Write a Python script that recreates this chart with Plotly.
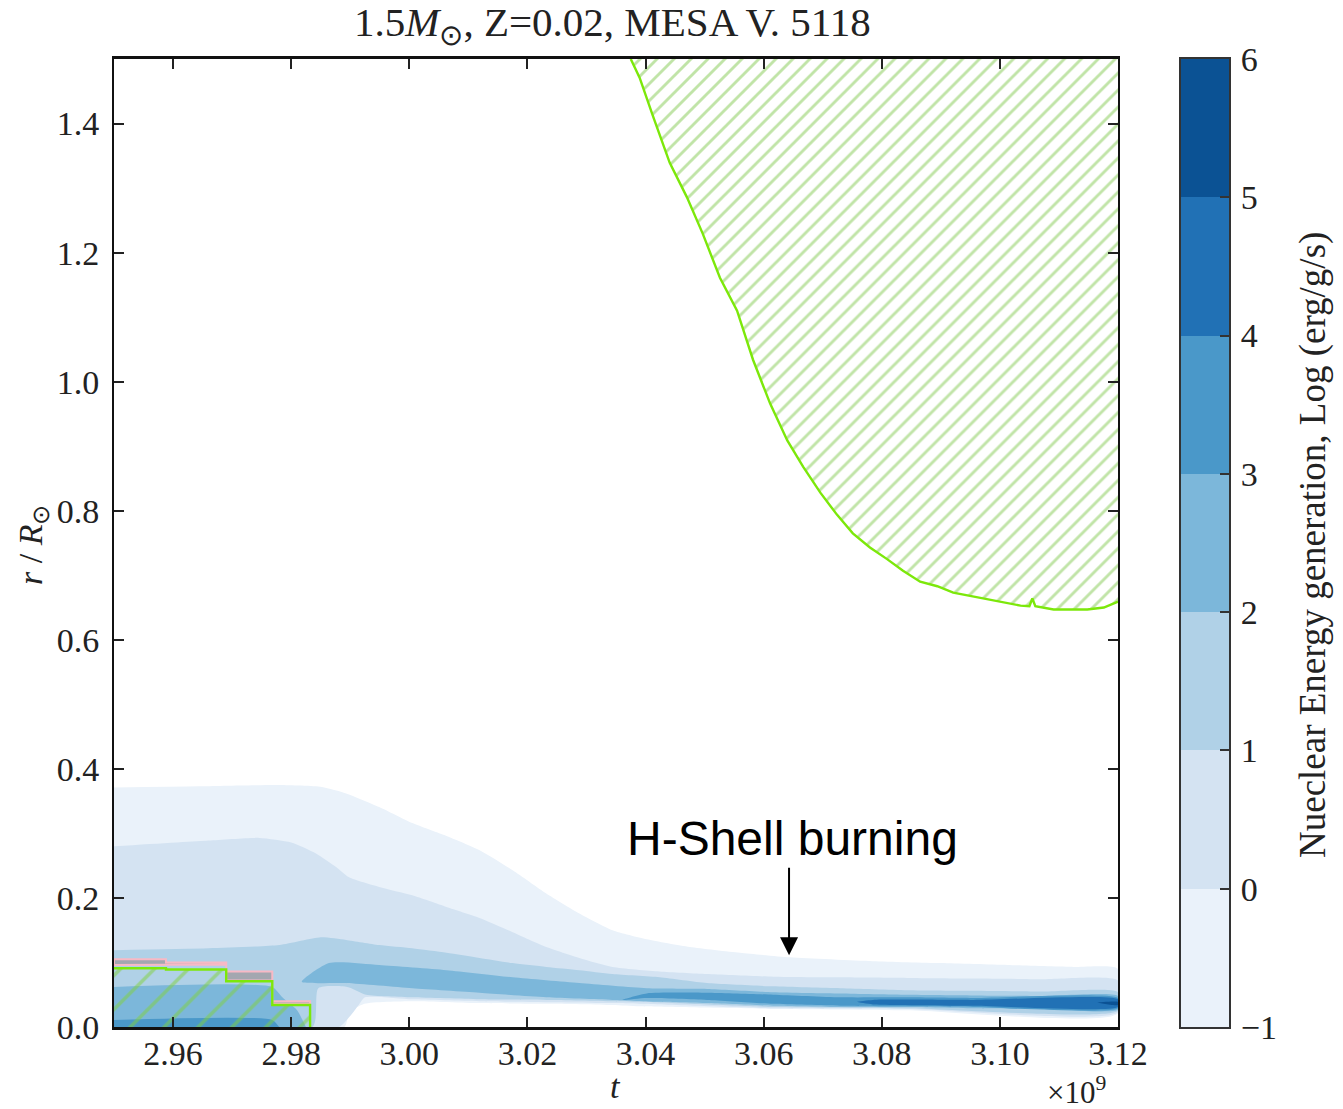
import plotly.graph_objects as go

# ---------------- data ----------------
levels = [-1, 0, 1, 2, 3, 4, 5, 6]
band_colors = ['#eaf2fa', '#d4e3f2', '#b0d1e7', '#7cb7da', '#4a98c9', '#2171b5', '#0b5294']

x_ticks = [2.96, 2.98, 3.00, 3.02, 3.04, 3.06, 3.08, 3.10, 3.12]
y_ticks = [0.0, 0.2, 0.4, 0.6, 0.8, 1.0, 1.2, 1.4]

# Boundaries (t in 1e9 yr, r in R_sun) of the region where log(eps_nuc) > level
lvm1_t_hi = [2.95, 2.9644, 2.978, 2.9852, 2.9893, 2.9949, 3.0005, 3.0063, 3.0119, 3.0175, 3.0232,
             3.0288, 3.0344, 3.0402, 3.0475, 3.056, 3.0645, 3.0785, 3.09, 3.1013, 3.1125, 3.12]
lvm1_r_hi = [0.371, 0.373, 0.375, 0.372, 0.362, 0.341, 0.316, 0.296, 0.274, 0.243, 0.207,
             0.176, 0.150, 0.136, 0.124, 0.115, 0.108, 0.102, 0.099, 0.096, 0.093, 0.090]
lvm1_t_lo = [2.95, 2.9890, 2.9898, 2.9924, 3.0005, 3.0119, 3.0232, 3.0344, 3.039, 3.0616, 3.0843, 3.12]
lvm1_r_lo = [0.0, 0.0, 0.022, 0.036, 0.040, 0.037, 0.036, 0.034, 0.032, 0.028, 0.026, 0.021]

lv0_t_hi = [2.95, 2.966, 2.9746, 2.980, 2.9842, 2.9876, 2.9898, 2.9949, 3.0005, 3.0063, 3.0119, 3.0175,
            3.0232, 3.0288, 3.0344, 3.0424, 3.0504, 3.0616, 3.073, 3.0843, 3.0955, 3.1069, 3.12]
lv0_r_hi = [0.280, 0.289, 0.293, 0.286, 0.269, 0.248, 0.232, 0.217, 0.204, 0.186, 0.169, 0.147,
            0.124, 0.107, 0.093, 0.086, 0.082, 0.078, 0.077, 0.076, 0.075, 0.074, 0.072]
lv0_t_lo = [2.95, 2.9881, 2.9898, 2.9915, 2.9925, 3.0005, 3.0119, 3.0344, 3.039, 3.0616, 3.0843, 3.12]
lv0_r_lo = [0.0, 0.0, 0.015, 0.035, 0.046, 0.043, 0.040, 0.037, 0.036, 0.029, 0.028, 0.023]

lv1_t_hi = [2.95, 2.966, 2.978, 2.985, 2.9893, 2.9949, 3.0005, 3.0063, 3.0119, 3.0175, 3.0232,
            3.0288, 3.0344, 3.0424, 3.0504, 3.0616, 3.073, 3.0843, 3.0955, 3.1069, 3.12]
lv1_r_hi = [0.119, 0.122, 0.127, 0.139, 0.135, 0.127, 0.122, 0.115, 0.107, 0.099, 0.093,
            0.088, 0.082, 0.077, 0.068, 0.063, 0.060, 0.057, 0.056, 0.055, 0.054]
lv1_t_lo = [2.95, 2.9836, 2.9846, 2.9895, 2.9927, 3.0005, 3.0119, 3.0232, 3.0344, 3.039, 3.0616, 3.0843, 3.12]
lv1_r_lo = [0.0, 0.0, 0.060, 0.062, 0.050, 0.046, 0.043, 0.042, 0.040, 0.039, 0.031, 0.029, 0.025]

lv2core_t_hi = [2.95, 2.9768, 2.9785, 2.981, 2.9825]
lv2core_r_hi = [0.062, 0.062, 0.046, 0.026, 0.0]
lv2core_t_lo = [2.95, 2.9825]
lv2core_r_lo = [0.0, 0.0]

lv2_t_hi = [2.9818, 2.9864, 2.9949, 3.0063, 3.0175, 3.0288, 3.0402, 3.0504, 3.0616, 3.073, 3.0843,
            3.0955, 3.1069, 3.12]
lv2_r_hi = [0.070, 0.099, 0.096, 0.088, 0.077, 0.068, 0.060, 0.059, 0.054, 0.052, 0.050,
            0.049, 0.048, 0.048]
lv2_t_lo = [2.9818, 2.9893, 3.0005, 3.0119, 3.0232, 3.0344, 3.0424, 3.0504, 3.0616, 3.073, 3.0843,
            3.0955, 3.1069, 3.12]
lv2_r_lo = [0.070, 0.068, 0.060, 0.053, 0.046, 0.042, 0.039, 0.037, 0.033, 0.031, 0.031,
            0.029, 0.028, 0.027]

lv3core_t_hi = [2.95, 2.9768, 2.978]
lv3core_r_hi = [0.011, 0.011, 0.0]
lv3core_t_lo = [2.95, 2.978]
lv3core_r_lo = [0.0, 0.0]

lv3_t_hi = [3.0361, 3.0402, 3.0504, 3.0616, 3.073, 3.0843, 3.0955, 3.12]
lv3_r_hi = [0.042, 0.052, 0.053, 0.050, 0.046, 0.046, 0.045, 0.045]
lv3_t_lo = [3.0361, 3.0402, 3.0504, 3.0616, 3.073, 3.0843, 3.0955, 3.12]
lv3_r_lo = [0.042, 0.045, 0.042, 0.036, 0.033, 0.032, 0.031, 0.029]

lv4_t = [3.0758, 3.0785, 3.0955, 3.12]
lv4_r_hi = [0.039, 0.042, 0.042, 0.043]
lv4_r_lo = [0.039, 0.035, 0.033, 0.031]

lv5_t = [3.1165, 3.12]
lv5_r_hi = [0.038, 0.039]
lv5_r_lo = [0.038, 0.034]

# convective envelope boundary
env_t = [3.0375, 3.0390, 3.0412, 3.0441, 3.0470, 3.0497, 3.0526, 3.0555, 3.0582, 3.0611, 3.0640,
         3.0667, 3.0696, 3.0724, 3.0751, 3.0780, 3.0809, 3.0836, 3.0865, 3.0894, 3.0921, 3.0979,
         3.1035, 3.1050, 3.1055, 3.1060, 3.1091, 3.1148, 3.1176, 3.12]
env_r = [1.500, 1.471, 1.413, 1.339, 1.286, 1.229, 1.161, 1.110, 1.034, 0.966, 0.909,
         0.868, 0.828, 0.794, 0.765, 0.743, 0.725, 0.707, 0.690, 0.683, 0.673, 0.663,
         0.653, 0.652, 0.664, 0.652, 0.647, 0.647, 0.650, 0.659]

# convective core (step boundaries)
core_edges_t = [2.95, 2.9588, 2.969, 2.9768, 2.9832]
core_conv_r = [0.091, 0.089, 0.071, 0.034]
core_pink_top_r = [0.105, 0.100, 0.086, 0.040]
core_pink_bot_r = [0.096, 0.097, 0.072, 0.036]

# ---------------- figure ----------------
W, H = 1343, 1109
ML, MR, MT, MB = 114, 0, 59, 82
PW, PH = W - ML - MR, H - MT - MB
XMIN, XMAX, YMIN, YMAX = 2.95, 3.12, 0.0, 1.5


def px(xp):
    return (xp - ML) / PW


def py(yp):
    return (H - MB - yp) / PH


def region(t_hi, r_hi, t_lo, r_lo):
    return list(t_hi) + list(t_lo)[::-1], list(r_hi) + list(r_lo)[::-1]


def steps(edges, vals):
    xs, ys = [], []
    for i, v in enumerate(vals):
        xs += [edges[i], edges[i + 1]]
        ys += [v, v]
    return xs, ys


fig = go.Figure()

bands = [
    (0, lvm1_t_hi, lvm1_r_hi, lvm1_t_lo, lvm1_r_lo),
    (1, lv0_t_hi, lv0_r_hi, lv0_t_lo, lv0_r_lo),
    (2, lv1_t_hi, lv1_r_hi, lv1_t_lo, lv1_r_lo),
    (3, lv2core_t_hi, lv2core_r_hi, lv2core_t_lo, lv2core_r_lo),
    (3, lv2_t_hi, lv2_r_hi, lv2_t_lo, lv2_r_lo),
    (4, lv3core_t_hi, lv3core_r_hi, lv3core_t_lo, lv3core_r_lo),
    (4, lv3_t_hi, lv3_r_hi, lv3_t_lo, lv3_r_lo),
    (5, lv4_t, lv4_r_hi, lv4_t, lv4_r_lo),
    (6, lv5_t, lv5_r_hi, lv5_t, lv5_r_lo),
]
for ci, th, rh, tl, rl in bands:
    xs, ys = region(th, rh, tl, rl)
    fig.add_trace(go.Scatter(x=xs, y=ys, mode='lines', fill='toself',
                             line=dict(width=0, shape='spline', smoothing=0.6),
                             fillcolor=band_colors[ci], hoverinfo='skip', showlegend=False))

# convective envelope hatch
fig.add_trace(go.Scatter(
    x=env_t + [XMAX], y=env_r + [YMAX], mode='none', fill='toself',
    fillcolor='rgba(0,0,0,0)',
    fillpattern=dict(shape='/', fgcolor='#82c94f', bgcolor='rgba(0,0,0,0)', size=12, solidity=0.24),
    hoverinfo='skip', showlegend=False))
fig.add_trace(go.Scatter(x=env_t, y=env_r, mode='lines', line=dict(color='#7ce80a', width=2.4),
                         hoverinfo='skip', showlegend=False))

# convective core hatch
cx, cy = steps(core_edges_t, core_conv_r)
fig.add_trace(go.Scatter(
    x=cx + [core_edges_t[-1], core_edges_t[0]], y=cy + [0.0, 0.0], mode='none', fill='toself',
    fillcolor='rgba(0,0,0,0)',
    fillpattern=dict(shape='/', fgcolor='#7fd23a', bgcolor='rgba(0,0,0,0)', size=24, solidity=0.15),
    hoverinfo='skip', showlegend=False))
# pink overshoot strip
ptx, pty = steps(core_edges_t, core_pink_top_r)
pbx, pby = steps(core_edges_t, core_pink_bot_r)
fig.add_trace(go.Scatter(x=ptx + pbx[::-1] + [ptx[0]], y=pty + pby[::-1] + [pty[0]], mode='lines',
                         fill='toself', fillcolor='#a3a7b0', line=dict(color='#f7b9c5', width=2),
                         hoverinfo='skip', showlegend=False))
fig.add_trace(go.Scatter(x=cx + [core_edges_t[-1]], y=cy + [0.0], mode='lines',
                         line=dict(color='#7ce80a', width=2.4), hoverinfo='skip', showlegend=False))

# colorbar as stacked bars
fig.add_trace(go.Bar(x=[0] * (len(levels) - 1), y=[levels[i + 1] - levels[i] for i in range(len(levels) - 1)],
                     base=levels[:-1], marker=dict(color=band_colors, line=dict(width=0)), width=1.0,
                     xaxis='x2', yaxis='y2', hoverinfo='skip', showlegend=False))

serif = 'Liberation Serif'
tickfont = dict(family=serif, size=34, color='#222')

fig.update_layout(
    width=W, height=H, autosize=False, margin=dict(l=ML, r=MR, t=MT, b=MB, autoexpand=False),
    paper_bgcolor='white', plot_bgcolor='white', showlegend=False,
    xaxis=dict(domain=[0, px(1118)], range=[XMIN, XMAX], tickvals=x_ticks, automargin=False,
               ticktext=['%.2f' % v for v in x_ticks], ticks='inside', ticklen=10, tickwidth=1.5,
               tickcolor='#222', showline=True, linewidth=2.5, linecolor='#111', mirror='ticks',
               showgrid=False, zeroline=False, tickfont=tickfont, ticklabelstandoff=-6),
    yaxis=dict(domain=[0, 1], range=[YMIN, YMAX], tickvals=y_ticks, automargin=False,
               ticktext=['%.1f' % v for v in y_ticks], ticks='inside', ticklen=10, tickwidth=1.5,
               tickcolor='#222', showline=True, linewidth=2, linecolor='#111', mirror='ticks',
               showgrid=False, zeroline=False, tickfont=tickfont, ticklabelstandoff=6),
    xaxis2=dict(domain=[px(1181), px(1229)], range=[-0.5, 0.5], anchor='y2', showticklabels=False,
                ticks='', showline=True, linewidth=2, linecolor='#333', mirror=True, automargin=False,
                showgrid=False, zeroline=False, fixedrange=True),
    yaxis2=dict(domain=[0, 1], range=[levels[0], levels[-1]], anchor='x2', side='right',
                tickvals=levels, ticks='inside', ticklen=9, tickwidth=1.5, tickcolor='#333',
                showline=True, linewidth=2, linecolor='#333', mirror=True, showgrid=False,
                zeroline=False, tickfont=tickfont, ticklabelstandoff=3, automargin=False),
    bargap=0,
)

ann = []
ann.append(dict(xref='paper', yref='paper', x=px(612), y=py(25), xanchor='center', yanchor='middle',
                text='1.5<i>M</i><sub>⊙</sub>, Z=0.02, MESA V. 5118', showarrow=False,
                font=dict(family=serif, size=41, color='#222')))
ann.append(dict(xref='paper', yref='paper', x=px(615), y=py(1086), xanchor='center', yanchor='middle',
                text='<i>t</i>', showarrow=False, font=dict(family=serif, size=34, color='#222')))
ann.append(dict(xref='paper', yref='paper', x=px(1076), y=py(1090), xanchor='center', yanchor='middle',
                text='×10<sup>9</sup>', showarrow=False, font=dict(family=serif, size=31, color='#222')))
ann.append(dict(xref='paper', yref='paper', x=px(33), y=py(545), xanchor='center', yanchor='middle',
                text='<i>r</i> / <i>R</i><sub>⊙</sub>', textangle=-90, showarrow=False,
                font=dict(family=serif, size=34, color='#222')))
ann.append(dict(xref='paper', yref='paper', x=px(1313), y=py(545), xanchor='center', yanchor='middle',
                text='Nueclear Energy generation, Log (erg/g/s)', textangle=-90, showarrow=False,
                font=dict(family=serif, size=37, color='#222')))
ann.append(dict(xref='x', yref='y', x=3.0648, y=0.2926, xanchor='center', yanchor='middle',
                text='H-Shell burning', showarrow=False,
                font=dict(family='Liberation Sans', size=48, color='black')))
ann.append(dict(xref='x', yref='y', axref='x', ayref='y', x=3.0643, y=0.111, ax=3.0643, ay=0.249,
                text='', showarrow=True, arrowhead=2, arrowsize=1.8, arrowwidth=2, arrowcolor='black'))
fig.update_layout(annotations=ann)

fig.write_html('out.html', config={'responsive': False, 'displayModeBar': False},
               post_script="document.body.style.margin='0px';document.body.style.overflow='hidden';")
